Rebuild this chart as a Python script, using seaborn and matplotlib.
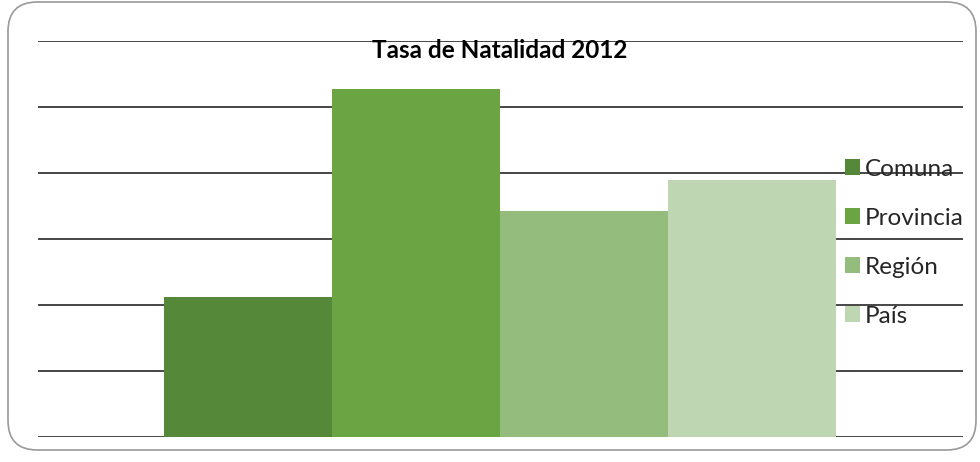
import numpy as np
import pandas as pd
import matplotlib
matplotlib.use("Agg")
import matplotlib.pyplot as plt
import seaborn as sns
from matplotlib.patches import FancyBboxPatch

# data (no axis labels, gridline step taken as 5)
series = ["Comuna", "Provincia", "Región", "País"]
values = [10.6, 26.4, 17.1, 19.5]
colors = ["#558838", "#6AA443", "#94BD7D", "#BED6B2"]

df = pd.DataFrame({"grupo": [""] * len(series), "serie": series, "valor": values})

sns.set_style("white")
plt.rcParams["font.family"] = ["Lato", "DejaVu Sans"]

W, H = 980, 462
fig = plt.figure(figsize=(W / 100, H / 100), dpi=100)

# rounded outer frame
frame = FancyBboxPatch((8 / W, 12 / H), 968 / W, 448 / H,
                       boxstyle="round,pad=0,rounding_size=0.03",
                       transform=fig.transFigure, facecolor="white",
                       edgecolor="#9a9a9a", linewidth=1.2, zorder=-5,
                       mutation_aspect=W / H)
fig.patches.append(frame)

ax = fig.add_axes([38 / W, (H - 437) / H, 925 / W, (437 - 41) / H])
ax.set_zorder(2)
ax.patch.set_alpha(0)

sns.barplot(data=df, x="grupo", y="valor", hue="serie", palette=colors,
            width=0.8, saturation=1, linewidth=0, ax=ax, zorder=3)

ax.set_xlim(-0.55, 0.551)
ax.set_ylim(0, 30)
ax.set_yticks(np.arange(0, 31, 5))
ax.yaxis.grid(True, color="#383838", linewidth=1.3, zorder=1)
ax.set_axisbelow(True)
ax.xaxis.grid(False)
ax.set_yticklabels([])
ax.set_xticks([])
ax.tick_params(left=False, bottom=False)
ax.set_xlabel("")
ax.set_ylabel("")
for s in ax.spines.values():
    s.set_visible(False)

fig.text(500 / W, 1 - 50 / H, "Tasa de Natalidad 2012", ha="center", va="center",
         fontsize=17.5, fontweight="bold", color="black", zorder=5)

handles, labels = ax.get_legend_handles_labels()
ax.legend(handles, labels, loc="upper left", bbox_to_anchor=(835 / W, 1 - 149 / H),
          bbox_transform=fig.transFigure, frameon=False, fontsize=17.5,
          handlelength=0.62, handleheight=0.62, handletextpad=0.2,
          labelspacing=1.15, borderaxespad=0)

fig.savefig("out.png", dpi=100)
